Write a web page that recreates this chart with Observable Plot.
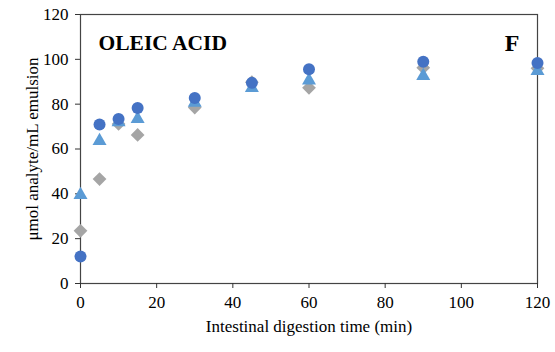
<!DOCTYPE html>
<html>
<head>
<meta charset="utf-8">
<script src="https://cdn.jsdelivr.net/npm/d3@7"></script>
<script src="https://cdn.jsdelivr.net/npm/@observablehq/plot@0.6"></script>
<style>
  html, body { margin: 0; padding: 0; background: #fff; }
  #chart svg { display: block; }
</style>
</head>
<body>
<div id="chart"></div>
<script>
const times = [0, 5, 10, 15, 30, 45, 60, 90, 120];
const circleSeries = [12, 70.9, 73.4, 78.3, 82.8, 89.5, 95.6, 98.9, 98.4];
const triangleSeries = [39.5, 63.6, 72, 73.4, 80.6, 87.2, 90.6, 92.6, 94.8];
const diamondSeries = [23.5, 46.6, 71.2, 66.3, 78.5, 89.8, 87.3, 96.3, 96];
const xTicks = [0, 20, 40, 60, 80, 100, 120];
const yTicks = [0, 20, 40, 60, 80, 100, 120];

const rows = (vals) => times.map((t, i) => ({t, v: vals[i]}));

const font = "'Liberation Serif', 'Times New Roman', serif";

const chart = Plot.plot({
  width: 555,
  height: 352,
  marginLeft: 80,
  marginRight: 18,
  marginTop: 14,
  marginBottom: 69,
  style: {fontFamily: font, fontSize: "17px", color: "#000", background: "#fff"},
  x: {domain: [0, 120], ticks: xTicks, label: "Intestinal digestion time (min)"},
  y: {domain: [0, 120], ticks: yTicks, label: "μmol analyte/mL emulsion"},
  marks: [
    Plot.frame({stroke: "#444", strokeWidth: 1.2}),
    Plot.axisX({ticks: xTicks, tickSize: 5, tickPadding: 7, stroke: "#333", fontSize: 17,
      label: "Intestinal digestion time (min)", labelAnchor: "center", labelArrow: "none", labelOffset: 48}),
    Plot.axisY({ticks: yTicks, tickSize: 5, tickPadding: 7, stroke: "#333", fontSize: 17,
      label: "μmol analyte/mL emulsion", labelAnchor: "center", labelArrow: "none", labelOffset: 55}),
    Plot.dot(rows(diamondSeries), {x: "t", y: "v", symbol: "diamond2", r: 6.2, fill: "#A5A5A5", stroke: "none"}),
    Plot.dot(rows(triangleSeries), {x: "t", y: "v", symbol: "triangle", r: 5.2, fill: "#5B9BD5", stroke: "none"}),
    Plot.dot(rows(circleSeries), {x: "t", y: "v", symbol: "circle", r: 6, fill: "#4472C4", stroke: "none"}),
    Plot.text(["OLEIC ACID"], {frameAnchor: "top-left", dx: 18, dy: 20, fontWeight: "bold", fontSize: 21.5, fill: "#000", textAnchor: "start"}),
    Plot.text(["F"], {frameAnchor: "top-right", dx: -18, dy: 19, fontWeight: "bold", fontSize: 24, fill: "#000", textAnchor: "end"})
  ]
});
document.getElementById("chart").appendChild(chart);
</script>
</body>
</html>
